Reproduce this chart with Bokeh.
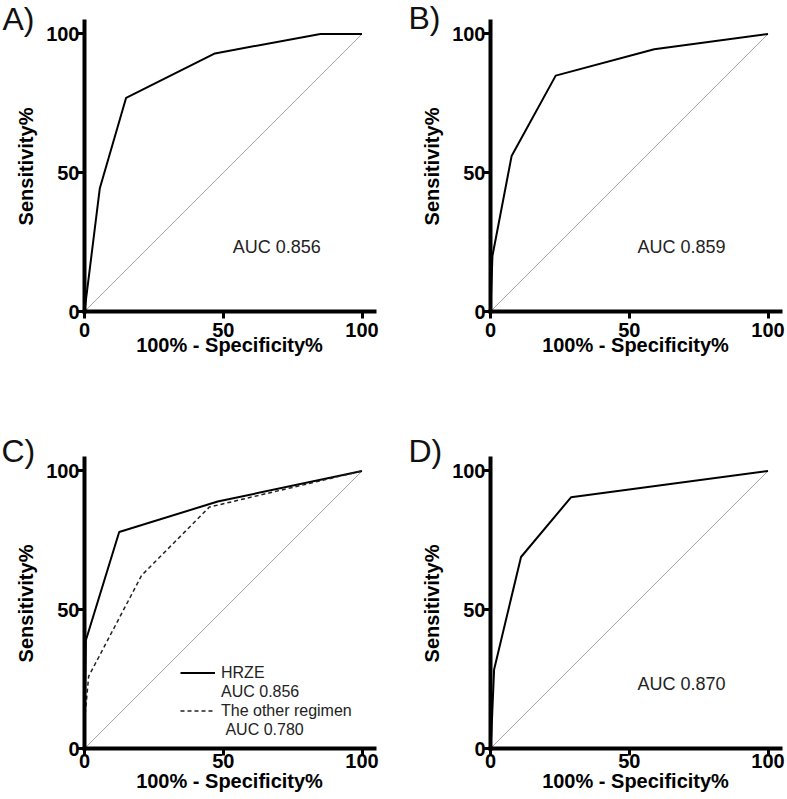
from bokeh.plotting import figure
from bokeh.models import FixedTicker, Label, Legend, LegendItem
from bokeh.layouts import column, row
from bokeh.embed import file_html
from bokeh.resources import INLINE

FONT = "Liberation Sans"

# ---------------- data ----------------
axis_ticks = [0, 50, 100]
x_title = "100% - Specificity%"
y_title = "Sensitivity%"
reference_line = [0, 100]

# A)
a_fpr = [0, 5.5, 15, 47, 85, 100]
a_sens = [0, 44.3, 77, 93, 100, 100]
a_auc = "AUC 0.856"

# B)
b_fpr = [0, 0.7, 7.6, 23.5, 59, 100]
b_sens = [0, 20, 56, 85, 94.5, 100]
b_auc = "AUC 0.859"

# C)
c_hrze_fpr = [0, 0.5, 12.5, 48, 100]
c_hrze_sens = [0, 39, 78, 89, 100]
c_other_fpr = [0, 0.3, 1.5, 20.6, 45, 100]
c_other_sens = [0, 13, 26, 62.4, 87, 100]
c_labels = ["HRZE", "AUC 0.856", "The other regimen", "\u00a0AUC 0.780"]

# D)
d_fpr = [0, 0.3, 1.3, 11, 29, 100]
d_sens = [0, 5, 28.5, 69, 90.5, 100]
d_auc = "AUC 0.870"


def make_panel(letter, letter_off, letter_standoff, top, bottom, right,
               xtick_standoff, xlabel_standoff):
    p = figure(frame_width=290, frame_height=290,
               x_range=(0, 104.5), y_range=(0, 104.5),
               output_backend="svg", toolbar_location=None,
               min_border_left=84, min_border_right=right,
               min_border_top=top, min_border_bottom=bottom,
               background_fill_color="white", border_fill_color="white")
    p.grid.visible = False
    p.outline_line_color = None
    for ax in (p.xaxis[0], p.yaxis[0]):
        ax.ticker = FixedTicker(ticks=axis_ticks)
        ax.axis_line_width = 4
        ax.axis_line_cap = "square"
        ax.axis_line_color = "black"
        ax.major_tick_line_width = 3
        ax.major_tick_line_color = "black"
        ax.major_tick_out = 7
        ax.major_tick_in = 0
        ax.minor_tick_out = 0
        ax.minor_tick_in = 0
        ax.major_label_text_font = FONT
        ax.major_label_text_font_size = "20px"
        ax.major_label_text_font_style = "bold"
        ax.major_label_text_color = "black"
        ax.axis_label_text_font = FONT
        ax.axis_label_text_font_size = "20px"
        ax.axis_label_text_font_style = "bold"
        ax.axis_label_text_color = "black"
    p.xaxis.axis_label = x_title
    p.yaxis.axis_label = y_title
    p.xaxis.major_label_standoff = xtick_standoff
    p.xaxis.axis_label_standoff = xlabel_standoff
    p.yaxis.major_label_standoff = -2
    p.yaxis.axis_label_standoff = 6
    p.line(reference_line, reference_line, line_color="#8f8f8f", line_width=0.8)
    # panel letter as the plot title, pulled to the left edge
    p.title.text = letter
    p.title.align = "left"
    p.title.vertical_align = "bottom"
    p.title.offset = letter_off
    p.title.standoff = letter_standoff
    p.title.text_font = FONT
    p.title.text_font_size = "32px"
    p.title.text_font_style = "normal"
    p.title.text_color = "#111111"
    return p


def add_auc(p, txt, x, y):
    p.add_layout(Label(x=x, y=y, text=txt, text_font=FONT, text_font_size="18px",
                       text_color="#222222", text_align="left",
                       text_baseline="alphabetic"))


pa = make_panel("A)", -82, -30, 21, 80, 32, 4, -6)
pa.line(a_fpr, a_sens, line_color="black", line_width=2)
add_auc(pa, a_auc, 53.4, 23.1)

pb = make_panel("B)", -82, -28, 21, 80, 7, 4, -6)
pb.line(b_fpr, b_sens, line_color="black", line_width=2)
add_auc(pb, b_auc, 53.0, 23.4)

pc = make_panel("C)", -83, -20, 67, 40, 32, -2, -1)
r1 = pc.line(c_hrze_fpr, c_hrze_sens, line_color="black", line_width=2)
r2 = pc.line(c_other_fpr, c_other_sens, line_color="#222222", line_width=1.5,
             line_dash="4 3")
legend = Legend(items=[LegendItem(label=c_labels[0], renderers=[r1]),
                       LegendItem(label=c_labels[1], renderers=[]),
                       LegendItem(label=c_labels[2], renderers=[r2]),
                       LegendItem(label=c_labels[3], renderers=[])],
                location=(96, 9), padding=0, margin=0, spacing=0,
                border_line_color=None, background_fill_alpha=0,
                glyph_width=35, glyph_height=19, label_height=19,
                label_standoff=6, label_text_font=FONT,
                label_text_font_size="16px", label_text_color="#222222")
pc.add_layout(legend)

pd = make_panel("D)", -82, -20, 67, 40, 7, -2, -1)
pd.line(d_fpr, d_sens, line_color="black", line_width=2)
add_auc(pd, d_auc, 53.0, 23.3)

layout = column(row(pa, pb), row(pc, pd))

open("out.html", "w").write(file_html(layout, INLINE))
